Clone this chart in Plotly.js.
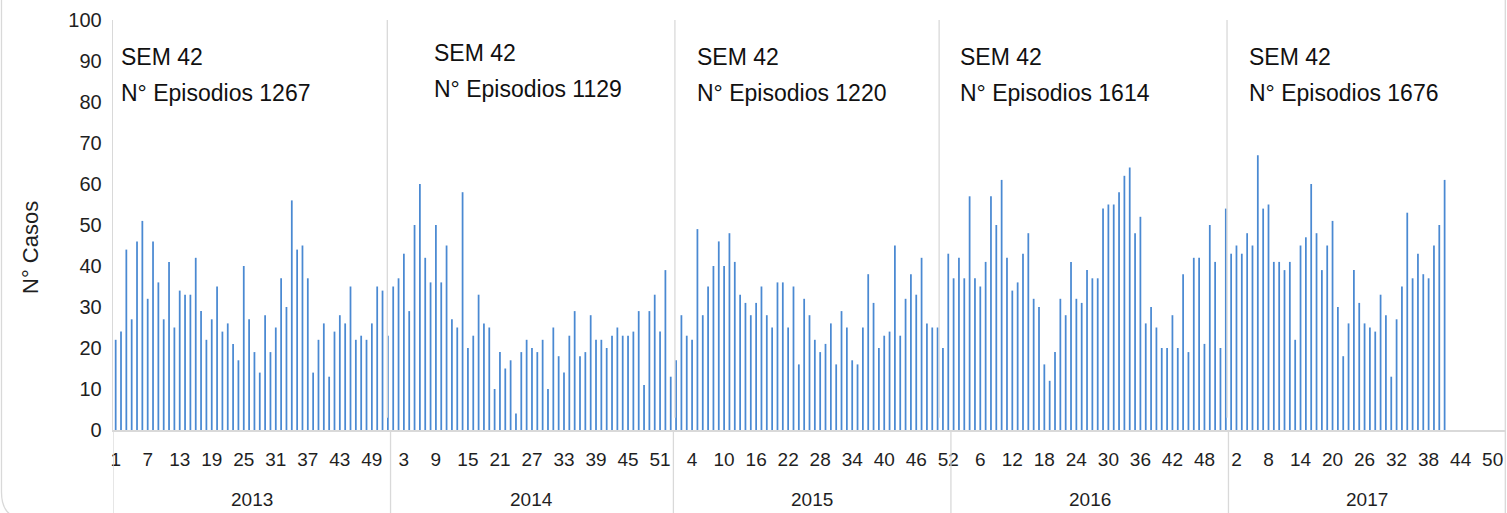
<!DOCTYPE html>
<html><head><meta charset="utf-8">
<script src="https://cdn.plot.ly/plotly-3.0.1.min.js"></script>
<style>html,body{margin:0;padding:0;background:#fff}#chart{width:1507px;height:513px}</style>
</head><body><div id="chart"></div>
<script>
const years = ['2013','2014','2015','2016','2017'];
const weeksPerYear = [52, 53, 52, 52, 52];
const cases2013 = [22,24,44,27,46,51,32,46,36,27,41,25,34,33,33,42,29,22,27,35,24,26,21,17,40,27,19,14,28,19,25,37,30,56,44,45,37,14,22,26,13,24,28,26,35,22,23,22,26,35,34,23];
const cases2014 = [35,37,43,29,50,60,42,36,50,36,45,27,25,58,20,23,33,26,25,10,19,15,17,4,19,22,20,19,22,10,25,18,14,23,29,18,19,28,22,22,20,23,25,23,23,24,29,11,29,33,24,39,13];
const cases2015 = [17,28,23,22,49,28,35,40,46,40,48,41,33,31,28,31,35,28,25,36,36,25,35,16,32,28,22,19,21,26,16,29,25,17,16,25,38,31,20,23,24,45,23,32,38,33,42,26,25,25,20,43];
const cases2016 = [37,42,37,57,37,35,41,57,50,61,42,34,36,43,48,32,30,16,12,19,32,28,41,32,31,39,37,37,54,55,55,58,62,64,48,52,26,30,25,20,20,28,20,38,19,42,42,21,50,41,20,54];
const cases2017 = [43,45,43,48,45,67,54,55,41,41,39,41,22,45,47,60,48,39,45,51,30,18,26,39,31,26,25,24,33,28,13,27,35,53,37,43,38,37,45,50,61];
const episodes = [1267, 1129, 1220, 1614, 1676];
const semanaLabel = 'SEM 42';
const yTickVals = [0,10,20,30,40,50,60,70,80,90,100];

const allCases = [cases2013, cases2014, cases2015, cases2016, cases2017];

const xIdx = [], yVals = [], hover = [];
const tickvals = [], ticktext = [];
const yearStart = [];
let idx = 0;
years.forEach((yr, k) => {
  yearStart.push(idx);
  for (let w = 1; w <= weeksPerYear[k]; w++) {
    const v = allCases[k][w - 1];
    if (v !== undefined) { xIdx.push(idx); yVals.push(v); hover.push(yr + ' sem ' + w); }
    if (idx % 6 === 0) { tickvals.push(idx); ticktext.push(String(w)); }
    idx++;
  }
});
const nCat = idx;
yearStart.push(nCat);

const font = 'Arial, "Liberation Sans", sans-serif';
const grey = '#d9d9d9';
const txt = '#1f1f1f';

// pixel -> paper helpers for the chart frame (plot area: x 113..1506, y 20..430)
const PL = 113, PW = 1393, PB = 430, PH = 410;
const px2x = p => (p - PL) / PW;
const px2y = p => (PB - p) / PH;

const shapes = [];
yearStart.forEach(s => {
  shapes.push({type:'line', xref:'x', yref:'paper', x0:s-0.5, x1:s-0.5, y0:0, y1:-0.25,
    line:{color:grey, width:1.3}});
});
const dividerPx = [387, 674.7, 939, 1227];
dividerPx.forEach(px => {
  const xc = (px - 112.6) / 5.339 - 0.5;
  shapes.push({type:'line', xref:'x', yref:'paper', x0:xc, x1:xc, y0:0.03, y1:1,
    line:{color:grey, width:1.3}});
});
// outer chart frame: left edge with rounded bottom-left corner (bottom edge falls outside), right edge
shapes.push({type:'path', xref:'paper', yref:'paper',
  path:`M ${px2x(1.5)} ${px2y(-5)} L ${px2x(1.5)} ${px2y(492)} Q ${px2x(1.5)} ${px2y(518)} ${px2x(24)} ${px2y(518)} L ${px2x(1500)} ${px2y(518)}`,
  line:{color:grey, width:1.3}});
shapes.push({type:'line', xref:'paper', yref:'paper', x0:px2x(1505.3), x1:px2x(1505.3), y0:px2y(-5), y1:px2y(520),
  line:{color:grey, width:1.3}});

const annotations = [];
years.forEach((yr, k) => {
  annotations.push({xref:'x', yref:'paper', x:(yearStart[k] + yearStart[k+1]) / 2 - 0.5, y:-0.17,
    text:yr, showarrow:false, xanchor:'center', yanchor:'middle',
    font:{family:font, size:19, color:txt}});
});
const textPx = [119, 432, 695, 958, 1247];
const textTopPx = [57, 53, 57, 57, 57];
years.forEach((yr, k) => {
  const xc = (textPx[k] - 112.6) / 5.339 - 0.5;
  annotations.push({xref:'x', yref:'paper', x:xc, y:px2y(textTopPx[k]), text:semanaLabel,
    showarrow:false, xanchor:'left', yanchor:'middle', font:{family:font, size:23, color:'#111'}});
  annotations.push({xref:'x', yref:'paper', x:xc, y:px2y(textTopPx[k] + 36), text:'N° Episodios ' + episodes[k],
    showarrow:false, xanchor:'left', yanchor:'middle', font:{family:font, size:23, color:'#111'}});
});
annotations.push({xref:'paper', yref:'paper', x:0, xshift:-83, y:px2y(248), text:'N° Casos',
  textangle:-90, showarrow:false, xanchor:'center', yanchor:'middle',
  font:{family:font, size:22, color:txt}});

const trace = {type:'bar', x:xIdx, y:yVals, text:hover, hoverinfo:'text+y', textposition:'none',
  marker:{color:'#4a89d2'}, width:0.33};

const layout = {
  width:1507, height:513,
  margin:{l:113, r:1, t:20, b:83},
  paper_bgcolor:'#ffffff', plot_bgcolor:'#ffffff',
  showlegend:false,
  xaxis:{range:[-0.5, nCat - 0.5], tickmode:'array', tickvals:tickvals, ticktext:ticktext,
    showgrid:false, zeroline:false, showline:true, linecolor:grey, linewidth:1.5,
    ticks:'', ticklabelstandoff:12, tickangle:0,
    tickfont:{family:font, size:19, color:txt}},
  yaxis:{range:[0, 100], tickmode:'array', tickvals:yTickVals, showgrid:false, zeroline:false,
    showline:true, linecolor:grey, linewidth:1.3, ticks:'', ticklabelstandoff:6,
    tickfont:{family:font, size:20, color:txt}},
  shapes:shapes, annotations:annotations
};

Plotly.newPlot('chart', [trace], layout, {displayModeBar:false, staticPlot:true});
</script></body></html>
